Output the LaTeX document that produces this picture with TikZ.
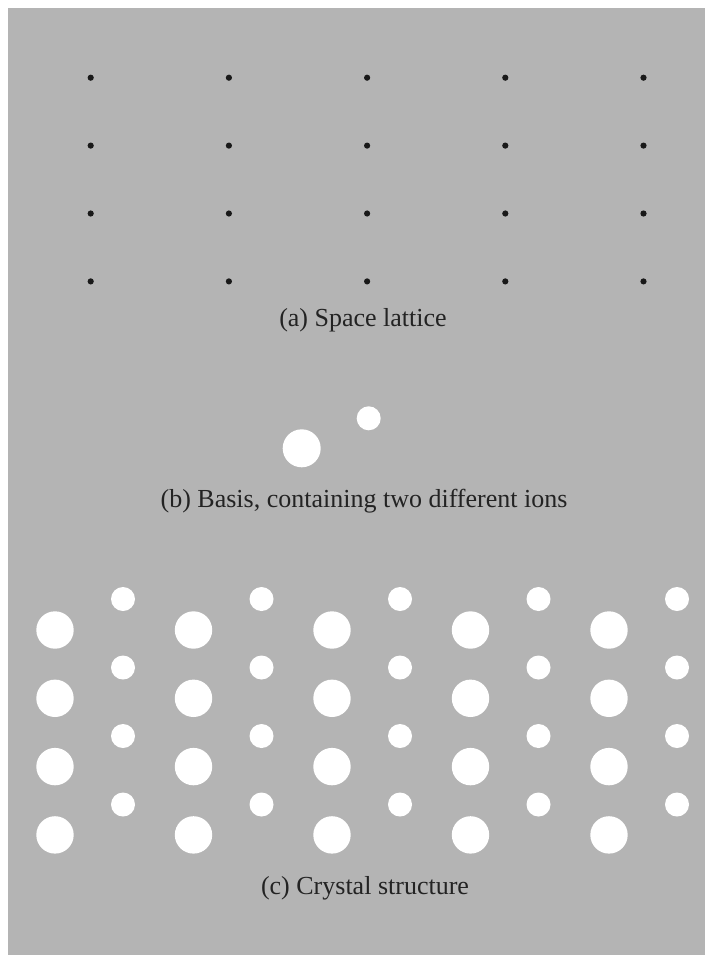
\documentclass[tikz,border=0pt]{standalone}
\usepackage{fontspec}
\setmainfont{Liberation Serif}
\definecolor{bggray}{RGB}{180,180,180}
\definecolor{dotc}{RGB}{25,25,25}
\definecolor{txt}{RGB}{35,35,35}
\begin{document}
\begin{tikzpicture}[x=1pt,y=-1pt,
  caption/.style={anchor=base,inner sep=0pt,text=txt,font=\fontsize{26}{30}\selectfont},
  latdot/.style={fill=dotc},
  bigion/.style={fill=white},
  smallion/.style={fill=white}]
\useasboundingbox (0,0) rectangle (705,955);
\fill[white] (0,0) rectangle (705,955);
\fill[bggray] (8,8) rectangle (705,955);
% (a) space lattice
\foreach \i in {0,...,4}{
  \foreach \j in {0,...,3}{
    \fill[latdot] (90.7+138.2*\i, 77.7+67.9*\j) circle (3.1);
  }
}
\node[caption] (capa) at (363,326) {(a) Space lattice};
% (b) basis
\fill[bigion] (301.7,448.3) circle (19);
\fill[smallion] (368.7,418.3) circle (12);
\node[caption] (capb) at (364,507) {(b) Basis, containing two different ions};
% (c) crystal structure
\foreach \i in {0,...,4}{
  \foreach \j in {0,...,3}{
    \fill[bigion] (55+138.5*\i, 630+68.3*\j) circle (18.7);
    \fill[smallion] (123+138.5*\i, 599+68.5*\j) circle (12);
  }
}
\node[caption] (capc) at (365,894) {(c) Crystal structure};
\end{tikzpicture}
\end{document}
